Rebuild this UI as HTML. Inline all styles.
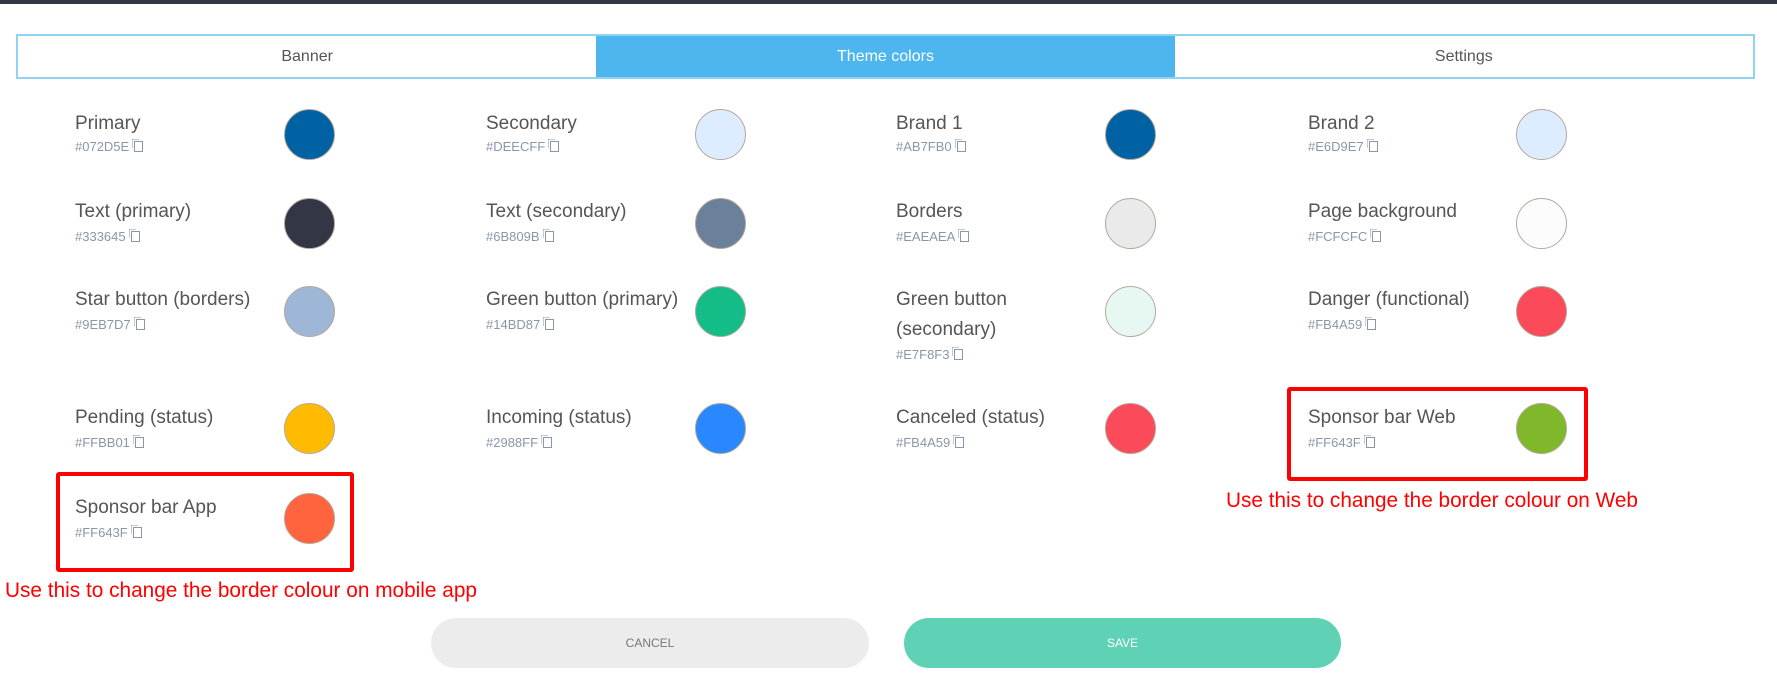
<!DOCTYPE html>
<html><head><meta charset="utf-8"><style>
*{margin:0;padding:0;box-sizing:border-box}
body{width:1777px;height:688px;background:#fff;position:relative;overflow:hidden;font-family:"Liberation Sans",sans-serif}
.top{position:absolute;left:0;top:0;width:1777px;height:4px;background:#333645}
.tabs{position:absolute;left:16px;top:34px;width:1739px;height:45px;border:2px solid #8fd2f2;display:flex}
.tab{flex:1;display:flex;align-items:center;justify-content:center;font-size:16px;color:#555}
.tab.a{background:#4db6ef;color:#fff}
.lbl{position:absolute;font-size:19px;color:#555;white-space:nowrap;line-height:22px}
.hex{position:absolute;font-size:13px;color:#8a96ab;white-space:nowrap;line-height:16px}
.hex i{display:inline-block;width:9px;height:11px;border:1.5px solid #8a96ab;margin-left:5px;vertical-align:-1px;position:relative;box-shadow:-2px -2px 0 -0.5px #fff,-3px -3px 0 -1px #8a96ab}
.c{position:absolute;width:51px;height:51px;border-radius:50%;border:1px solid #b4a89a}
.box{position:absolute;border:4px solid #ff0000;border-radius:3px}
.btn{position:absolute;height:50px;border-radius:25px;display:flex;align-items:center;justify-content:center;font-size:12px}
</style></head><body>
<div class="top"></div>
<div class="tabs"><div class="tab">Banner</div><div class="tab a">Theme colors</div><div class="tab">Settings</div></div>

<!-- row 1 -->
<div class="lbl" style="left:75px;top:113px">Primary</div><div class="hex" style="left:75px;top:139px">#072D5E<i></i></div><div class="c" style="left:284px;top:109px;background:#0062a3"></div>
<div class="lbl" style="left:486px;top:113px">Secondary</div><div class="hex" style="left:486px;top:139px">#DEECFF<i></i></div><div class="c" style="left:695px;top:109px;background:#deecff"></div>
<div class="lbl" style="left:896px;top:113px">Brand 1</div><div class="hex" style="left:896px;top:139px">#AB7FB0<i></i></div><div class="c" style="left:1105px;top:109px;background:#0062a3"></div>
<div class="lbl" style="left:1308px;top:113px">Brand 2</div><div class="hex" style="left:1308px;top:139px">#E6D9E7<i></i></div><div class="c" style="left:1516px;top:109px;background:#deecff"></div>
<!-- row 2 -->
<div class="lbl" style="left:75px;top:201px">Text (primary)</div><div class="hex" style="left:75px;top:229px">#333645<i></i></div><div class="c" style="left:284px;top:198px;background:#333645"></div>
<div class="lbl" style="left:486px;top:201px">Text (secondary)</div><div class="hex" style="left:486px;top:229px">#6B809B<i></i></div><div class="c" style="left:695px;top:198px;background:#6b809b"></div>
<div class="lbl" style="left:896px;top:201px">Borders</div><div class="hex" style="left:896px;top:229px">#EAEAEA<i></i></div><div class="c" style="left:1105px;top:198px;background:#eaeaea"></div>
<div class="lbl" style="left:1308px;top:201px">Page background</div><div class="hex" style="left:1308px;top:229px">#FCFCFC<i></i></div><div class="c" style="left:1516px;top:198px;background:#fcfcfc"></div>
<!-- row 3 -->
<div class="lbl" style="left:75px;top:289px">Star button (borders)</div><div class="hex" style="left:75px;top:317px">#9EB7D7<i></i></div><div class="c" style="left:284px;top:286px;background:#9eb7d7"></div>
<div class="lbl" style="left:486px;top:289px">Green button (primary)</div><div class="hex" style="left:486px;top:317px">#14BD87<i></i></div><div class="c" style="left:695px;top:286px;background:#14bd87"></div>
<div class="lbl" style="left:896px;top:289px">Green button</div><div class="lbl" style="left:896px;top:319px">(secondary)</div><div class="hex" style="left:896px;top:347px">#E7F8F3<i></i></div><div class="c" style="left:1105px;top:286px;background:#e7f8f3"></div>
<div class="lbl" style="left:1308px;top:289px">Danger (functional)</div><div class="hex" style="left:1308px;top:317px">#FB4A59<i></i></div><div class="c" style="left:1516px;top:286px;background:#fb4a59"></div>
<!-- row 4 -->
<div class="lbl" style="left:75px;top:407px">Pending (status)</div><div class="hex" style="left:75px;top:435px">#FFBB01<i></i></div><div class="c" style="left:284px;top:403px;background:#ffbb01"></div>
<div class="lbl" style="left:486px;top:407px">Incoming (status)</div><div class="hex" style="left:486px;top:435px">#2988FF<i></i></div><div class="c" style="left:695px;top:403px;background:#2988ff"></div>
<div class="lbl" style="left:896px;top:407px">Canceled (status)</div><div class="hex" style="left:896px;top:435px">#FB4A59<i></i></div><div class="c" style="left:1105px;top:403px;background:#fb4a59"></div>
<div class="lbl" style="left:1308px;top:407px">Sponsor bar Web</div><div class="hex" style="left:1308px;top:435px">#FF643F<i></i></div><div class="c" style="left:1516px;top:403px;background:#7fb82b"></div>
<!-- row 5 -->
<div class="lbl" style="left:75px;top:497px">Sponsor bar App</div><div class="hex" style="left:75px;top:525px">#FF643F<i></i></div><div class="c" style="left:284px;top:493px;background:#ff643f"></div>

<div class="box" style="left:56px;top:472px;width:298px;height:100px"></div>
<div class="box" style="left:1287px;top:387px;width:301px;height:94px"></div>

<svg style="position:absolute;left:0;top:0" width="1777" height="688">
<text x="5" y="597" font-family="Liberation Sans, sans-serif" font-size="21" fill="#ff0000" textLength="472" lengthAdjust="spacingAndGlyphs">Use this to change the border colour on mobile app</text>
<text x="1226" y="507" font-family="Liberation Sans, sans-serif" font-size="21" fill="#ff0000" textLength="412" lengthAdjust="spacingAndGlyphs">Use this to change the border colour on Web</text>
</svg>

<div class="btn" style="left:431px;top:618px;width:438px;background:#ececec;color:#777">CANCEL</div>
<div class="btn" style="left:904px;top:618px;width:437px;background:#5fd1b5;color:#fff">SAVE</div>
</body></html>
